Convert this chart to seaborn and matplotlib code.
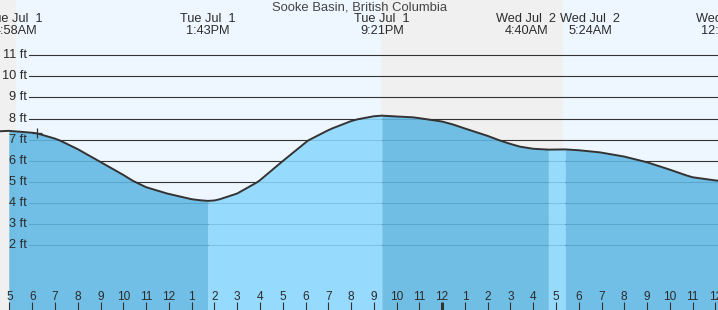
import numpy as np
import pandas as pd
import matplotlib
matplotlib.use("Agg")
import matplotlib.pyplot as plt
import matplotlib.transforms as mtransforms
import seaborn as sns

# ---------------- data (hours since midnight, Tue Jul 1) ----------------
title = "Sooke Basin, British Columbia"
curve_hours = [4.58, 4.967, 6, 6.21, 7, 7.22, 8, 8.97, 10, 10.42, 11, 11.92, 13,
               13.37, 13.717, 14, 14.24, 15, 15.87, 16, 16.97, 18.11, 19, 19.21, 20,
               20.30, 21, 21.35, 22, 22.72, 23, 24, 24.48, 25, 26, 26.54, 27, 27.42,
               28, 28.667, 29.4, 30, 30.93, 32, 33, 34, 34.75, 35, 36, 36.12]
curve_feet = [7.40, 7.42, 7.33, 7.30, 7.05, 6.96, 6.55, 5.96, 5.33, 5.05, 4.75, 4.45,
              4.18, 4.13, 4.10, 4.12, 4.18, 4.45, 4.98, 5.08, 5.96, 6.96, 7.45, 7.55,
              7.88, 7.97, 8.11, 8.14, 8.10, 8.06, 8.02, 7.86, 7.72, 7.53, 7.18, 6.96,
              6.80, 6.67, 6.57, 6.53, 6.54, 6.50, 6.40, 6.20, 5.93, 5.58, 5.30, 5.22,
              5.07, 5.06]

event_hours = [4.967, 13.717, 21.35, 28.667, 29.4, 36.47]
event_day = ["Tue Jul  1", "Tue Jul  1", "Tue Jul  1", "Wed Jul  2", "Wed Jul  2", "Wed Jul  2"]
event_time = ["4:58AM", "1:43PM", "9:21PM", "4:40AM", "5:24AM", "12:28PM"]

night_start = [4.58, 21.31]
night_end = [5.28, 29.31]

hour_ticks = list(range(5, 37))
height_ticks = [2, 3, 4, 5, 6, 7, 8, 9, 10, 11]

now_hour = 6.21
now_feet = 7.30

# ---------------- layout ----------------
W, H = 718, 310
XMIN, XMAX = 4.583, 36.115
YMIN, YMAX = -1.07, 13.62

fig = plt.figure(figsize=(W / 100, H / 100), dpi=100)
ax = fig.add_axes([0, 0, 1, 1])
ax.set_facecolor("#eef7ff")

FONT = "Liberation Sans"
TXT = "#2b2b2b"

# night shading
for a, b in zip(night_start, night_end):
    ax.axvspan(max(a, XMIN), b, color="#f0f0f0", zorder=0, lw=0)

ytr = mtransforms.blended_transform_factory(ax.transAxes, ax.transData)
# horizontal grid lines
for v in height_ticks:
    ax.axhline(v, xmin=29 / W, xmax=1, color="#333333", lw=0.8, zorder=1)
    ax.text(27 / W, v, f"{v} ft", transform=ytr, ha="right", va="center",
            fontsize=9.2, family=FONT, color=TXT, zorder=5)

# fill segments between tide events
df = pd.DataFrame({"hour": curve_hours, "feet": curve_feet})
bounds = [XMIN] + [e for e in event_hours if e < XMAX] + [XMAX + 1]
light, dark = "#8ad7fe", "#60b8e3"
for i in range(len(bounds) - 1):
    a, b = bounds[i], bounds[i + 1]
    seg = df[(df.hour >= a - 1e-9) & (df.hour <= b + 1e-9)]
    col = light if i % 2 == 0 else dark   # rising light, falling dark
    ax.fill_between(seg.hour, YMIN, seg.feet, color=col, alpha=0.88, lw=0, zorder=2)

# curve
sns.lineplot(data=df, x="hour", y="feet", ax=ax, color="#333333", lw=1.4, zorder=4,
             legend=False)
ax.set_xlabel("")
ax.set_ylabel("")
ax.set_xlim(XMIN, XMAX)
ax.set_ylim(YMIN, YMAX)
for s in ax.spines.values():
    s.set_visible(False)
ax.set_xticks([])
ax.set_yticks([])

# current-time marker
ax.scatter([now_hour], [now_feet], marker="+", s=45, color="#333333", lw=0.9, zorder=6)

# event labels at top
bt = mtransforms.blended_transform_factory(ax.transData, ax.transAxes)
nudge = {0: 0.28, 3: -0.98, 4: 1.1}
for i, (hh, d, t) in enumerate(zip(event_hours, event_day, event_time)):
    xh = hh + nudge.get(i, 0)
    ax.text(xh, 1 - 19 / H, d, transform=bt, ha="center", va="center", fontsize=9.2,
            family=FONT, color=TXT, zorder=6, clip_on=False)
    ax.text(xh, 1 - 31 / H, t, transform=bt, ha="center", va="center", fontsize=9.2,
            family=FONT, color=TXT, zorder=6, clip_on=False)

fig.text(0.501, 1 - 8 / H, title, ha="center", va="center", fontsize=9.4, family=FONT,
         color="#444444")

# hour ticks at bottom
tick_top = YMIN + (YMAX - YMIN) * (8 / H)
for h in hour_ticks:
    lab = str((h - 1) % 12 + 1)
    lw = 2.2 if h % 24 == 0 else 0.8
    ax.vlines(h, YMIN, tick_top, color="#333333", lw=lw, zorder=6)
    ax.text(h, 1 - 297 / H, lab, transform=bt, ha="center", va="center", fontsize=8.6,
            family=FONT, color=TXT, zorder=6)

fig.savefig("out.png", dpi=100)
